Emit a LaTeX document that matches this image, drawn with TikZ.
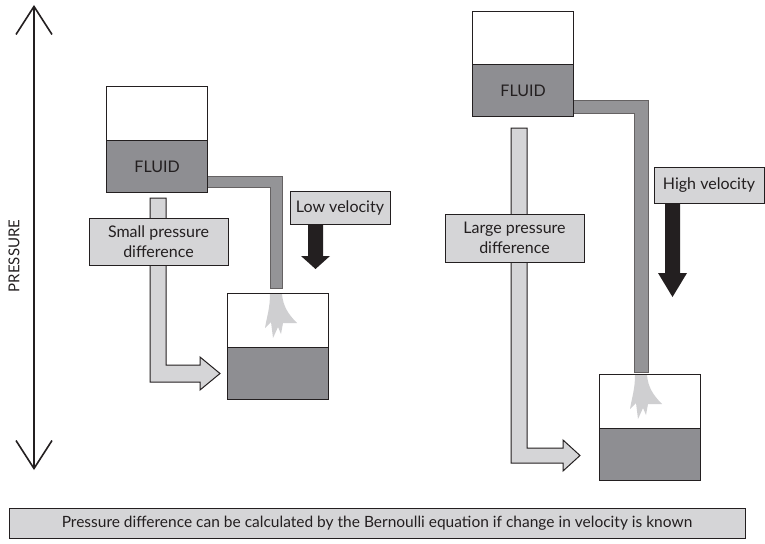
\documentclass[tikz,border=0pt]{standalone}
\usepackage{fontspec}
\setmainfont{Lato}
\usepackage{tikz}
\usetikzlibrary{arrows.meta}
\definecolor{inkgray}{HTML}{231F20}
\definecolor{fluidgray}{HTML}{8E8E92}
\definecolor{pipegray}{HTML}{949497}
\definecolor{labelgray}{HTML}{D5D5D7}
\definecolor{splashgray}{HTML}{CFCFD1}

% splash of fluid under a pipe outlet: #1 = centre x, #2 = top y
\newcommand{\splash}[2]{%
  \fill[splashgray] (#1-6,#2) .. controls (#1-6,#2+14) and (#1-9,#2+22) .. (#1-11,#2+34)
    -- (#1-5,#2+28) -- (#1-3,#2+44) -- (#1+2,#2+33) -- (#1+5,#2+40)
    -- (#1+7,#2+29) -- (#1+21,#2+29) .. controls (#1+12,#2+20) and (#1+7,#2+12) .. (#1+6,#2) -- cycle;}

\begin{document}
\begin{tikzpicture}[
  x=1pt, y=-1pt,
  every node/.style={font=\fontsize{16}{20}\selectfont, text=inkgray},
  air/.style={draw=inkgray, line width=1.2pt, fill=white, minimum width=101pt,
    minimum height=54pt, inner sep=0pt, anchor=north west},
  fluid/.style={draw=inkgray, line width=1.2pt, fill=fluidgray, minimum width=101pt,
    minimum height=52pt, inner sep=0pt, anchor=north west},
  tag/.style={draw=inkgray, line width=1pt, fill=labelgray, align=center, inner sep=0pt},
  darkpipe/.style={fill=pipegray, draw=inkgray!70, line width=0.8pt},
  lightpipe/.style={fill=labelgray, draw=inkgray, line width=1pt},
  fallarrow/.style={fill=inkgray}
]
  \useasboundingbox (0,0) rectangle (765,543);

  % pressure axis
  \draw[line width=1.6pt, inkgray,
    {Straight Barb[length=28pt, width=36pt]}-{Straight Barb[length=28pt, width=36pt]}]
    (34,5) -- (34,470);
  \node[rotate=90, font=\fontsize{15}{17}\selectfont] (axis) at (14,256) {PRESSURE};

  % ---- small pressure difference ----
  \draw[lightpipe] (150,198) -- (166,198) -- (166,365) -- (200,365) -- (200,357)
    -- (220,373.5) -- (200,390) -- (200,382) -- (150,382) -- cycle;
  \draw[darkpipe] (207,176) -- (282,176) -- (282,288) -- (270,288) -- (270,187) -- (207,187) -- cycle;
  \node[air] (topairL) at (106,86) {};
  \node[fluid] (topfluidL) at (106,140) {FLUID};
  \node[air] (lowairL) at (227,293) {};
  \node[fluid] (lowfluidL) at (227,347) {};
  \splash{276}{294}
  \node[tag, minimum width=139pt, minimum height=47pt] (smalldp) at (158.5,241.5)
    {Small pressure\\difference};
  \node[tag, minimum width=100pt, minimum height=33pt] (lowv) at (340,207.5) {Low velocity};
  \fill[fallarrow] (308,224) -- (323,224) -- (323,256) -- (330,256) -- (315.5,269)
    -- (301,256) -- (308,256) -- cycle;

  % ---- large pressure difference ----
  \draw[lightpipe] (511,128) -- (527,128) -- (527,448) -- (563,448) -- (563,440)
    -- (580,455.5) -- (563,471) -- (563,463) -- (511,463) -- cycle;
  \draw[darkpipe] (573,100) -- (648,100) -- (648,372) -- (634,372) -- (634,113) -- (573,113) -- cycle;
  \node[air] (topairR) at (472,11) {};
  \node[fluid] (topfluidR) at (472,64) {FLUID};
  \node[air] (lowairR) at (599,374) {};
  \node[fluid] (lowfluidR) at (599,428) {};
  \splash{641}{375}
  \node[tag, minimum width=139pt, minimum height=48pt] (largedp) at (514.5,238)
    {Large pressure\\difference};
  \node[tag, minimum width=110pt, minimum height=36pt] (highv) at (709,185) {High velocity};
  \fill[fallarrow] (665,203) -- (680,203) -- (680,273) -- (687,273) -- (672.5,297)
    -- (658,273) -- (665,273) -- cycle;

  % note
  \node[tag, minimum width=736pt, minimum height=30pt, font=\fontsize{15.5}{18}\selectfont]
    (note) at (377,523)
    {Pressure difference can be calculated by the Bernoulli equation if change in velocity is known};
\end{tikzpicture}
\end{document}
